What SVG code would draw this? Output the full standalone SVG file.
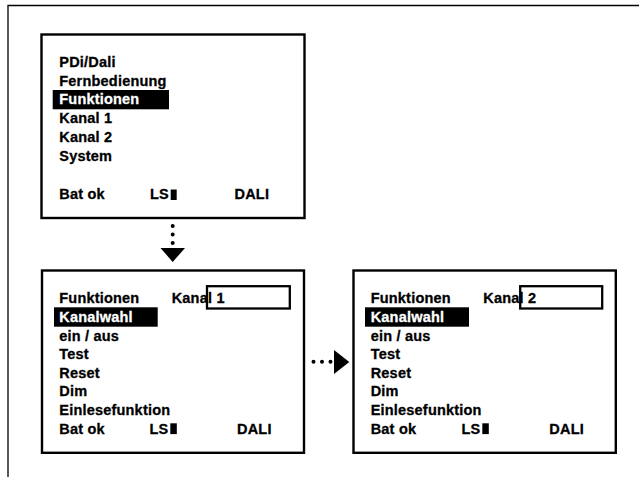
<svg xmlns="http://www.w3.org/2000/svg" width="639" height="477" viewBox="0 0 639 477">
  <style>
    .screen { fill: none; stroke: #000; stroke-width: 2.4; }
    .field { fill: none; stroke: #000; stroke-width: 2.3; }
    .bar { fill: #000; }
    .t { font-family: "Liberation Sans", Arial, sans-serif; font-weight: bold; font-size: 14.5px; letter-spacing: 0.2px; fill: #000; stroke: #000; stroke-width: 0.3; }
    .inv { fill: #fff; stroke: #fff; }
    .dots { fill: none; stroke: #000; stroke-width: 4; stroke-linecap: round; stroke-dasharray: 0 8.5; }
    .head { fill: #000; }
  </style>

  <rect width="639" height="477" fill="#fff"/>

  <!-- outer frame: left and top edges only -->
  <path id="frame" d="M8,477 V5.5 H639" fill="none" stroke="#000" stroke-width="1.3"/>

  <!-- main menu screen -->
  <g id="screen-main">
    <rect class="screen" x="41.5" y="34.5" width="263" height="183.5"/>
    <rect class="bar" x="52.7" y="90" width="116.3" height="19.3"/>
    <text class="t" x="59.3" y="66.7">PDi/Dali</text>
    <text class="t" x="59.3" y="85.5">Fernbedienung</text>
    <text class="t inv" x="59.3" y="104.3">Funktionen</text>
    <text class="t" x="59.3" y="123.1">Kanal 1</text>
    <text class="t" x="59.3" y="141.9">Kanal 2</text>
    <text class="t" x="59.3" y="160.7">System</text>
    <text class="t" x="59.3" y="199">Bat ok</text>
    <text class="t" x="150" y="199">LS</text>
    <rect class="bar" x="170.7" y="189.5" width="6" height="10.5"/>
    <text class="t" x="234.5" y="199">DALI</text>
  </g>

  <!-- functions screen, channel 1 -->
  <g id="screen-kanal1">
    <rect class="screen" x="42" y="270.5" width="262" height="182.3"/>
    <rect class="bar" x="54" y="307.3" width="103.7" height="19.4"/>
    <text class="t" x="59.3" y="303.3">Funktionen</text>
    <text class="t" x="171.7" y="303.3">Kanal 1</text>
    <rect class="field" x="207" y="286.2" width="82.8" height="22.3"/>
    <text class="t inv" x="59.3" y="321.9">Kanalwahl</text>
    <text class="t" x="59.3" y="340.5">ein / aus</text>
    <text class="t" x="59.3" y="359.1">Test</text>
    <text class="t" x="59.3" y="377.7">Reset</text>
    <text class="t" x="59.3" y="396.3">Dim</text>
    <text class="t" x="59.3" y="414.9">Einlesefunktion</text>
    <text class="t" x="59.3" y="433.8">Bat ok</text>
    <text class="t" x="149.5" y="433.8">LS</text>
    <rect class="bar" x="170.3" y="423.3" width="6.5" height="10.8"/>
    <text class="t" x="237" y="433.8">DALI</text>
  </g>

  <!-- functions screen, channel 2 -->
  <g id="screen-kanal2">
    <rect class="screen" x="353.5" y="270.5" width="262.3" height="182.3"/>
    <rect class="bar" x="365" y="307.3" width="104" height="19.4"/>
    <text class="t" x="370.7" y="303.3">Funktionen</text>
    <text class="t" x="483.3" y="303.3">Kanal 2</text>
    <rect class="field" x="520.2" y="286.2" width="82" height="22.3"/>
    <text class="t inv" x="370.7" y="321.9">Kanalwahl</text>
    <text class="t" x="370.7" y="340.5">ein / aus</text>
    <text class="t" x="370.7" y="359.1">Test</text>
    <text class="t" x="370.7" y="377.7">Reset</text>
    <text class="t" x="370.7" y="396.3">Dim</text>
    <text class="t" x="370.7" y="414.9">Einlesefunktion</text>
    <text class="t" x="370.7" y="433.8">Bat ok</text>
    <text class="t" x="461.5" y="433.8">LS</text>
    <rect class="bar" x="482.3" y="423.3" width="6.5" height="10.8"/>
    <text class="t" x="549.3" y="433.8">DALI</text>
  </g>

  <!-- dotted arrows between screens -->
  <g id="connectors">
    <line class="dots" x1="172.7" y1="226" x2="172.7" y2="243.1"/>
    <polygon class="head" points="160.5,248 185,248 172.7,262"/>
    <line class="dots" x1="313.5" y1="361.8" x2="330.6" y2="361.8"/>
    <polygon class="head" points="334,350 334,374 349.3,362"/>
  </g>
</svg>
